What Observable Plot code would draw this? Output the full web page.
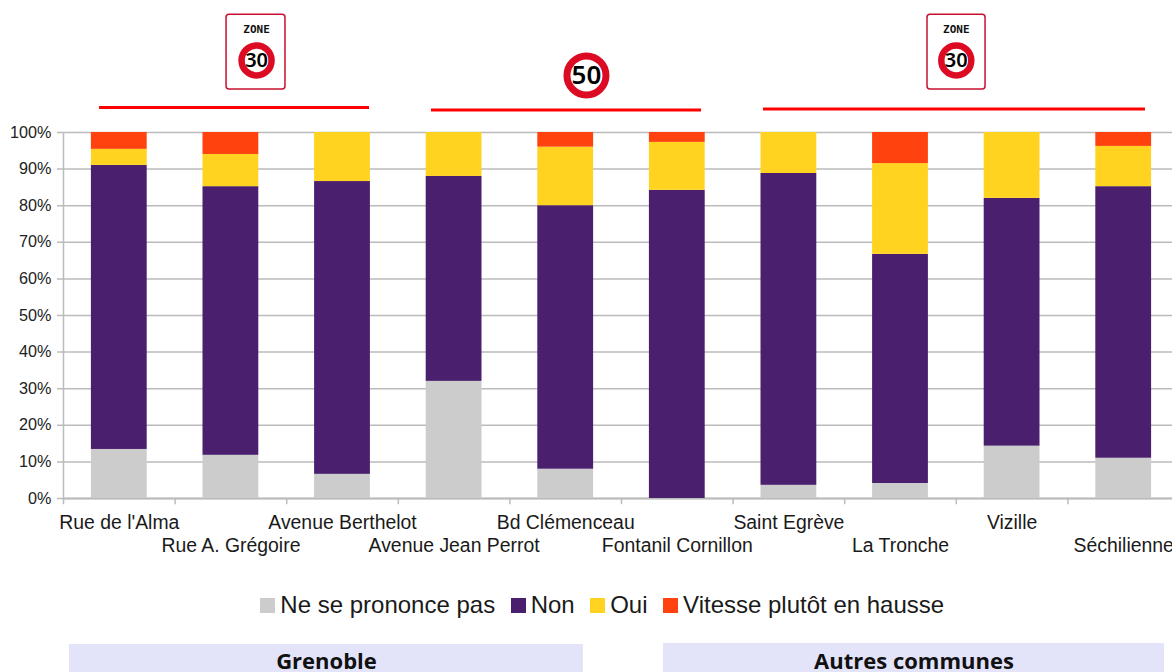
<!DOCTYPE html>
<html lang="fr">
<head>
<meta charset="utf-8">
<script src="https://cdn.jsdelivr.net/npm/d3@7"></script>
<script src="https://cdn.jsdelivr.net/npm/@observablehq/plot@0.6"></script>
<style>
html,body{margin:0;padding:0;background:#fff;overflow:hidden;width:1172px;height:672px}
#wrap{position:relative;width:1172px;height:672px;overflow:hidden}
#legend{position:absolute;left:49px;top:591px;width:1122px;text-align:center}
#legend>div{justify-content:center;margin:0 !important;min-height:0 !important}
[class$="-swatch"]{margin-right:15.5px !important;color:#1a1a1a}
#legend svg{margin-right:5px !important}
</style>
</head>
<body>
<div id="wrap"></div>
<script>
const categories = ["Rue de l'Alma","Rue A. Grégoire","Avenue Berthelot","Avenue Jean Perrot","Bd Clémenceau","Fontanil Cornillon","Saint Egrève","La Tronche","Vizille","Séchilienne"];
const seriesNames = ["Ne se prononce pas","Non","Oui","Vitesse plutôt en hausse"];
const seriesColors = ["#cccccc","#4a206e","#ffd320","#ff420e"];
const nspp    = [13.4,11.8, 6.6,32.0, 8.0, 0.0, 3.6, 4.1,14.3,11.0];
const non     = [77.6,73.4,80.0,56.0,72.0,84.2,85.2,62.6,67.7,74.2];
const oui     = [ 4.4, 8.8,13.4,12.0,16.0,13.1,11.2,24.8,18.0,11.0];
const hausse  = [ 4.6, 6.0, 0.0, 0.0, 4.0, 2.7, 0.0, 8.5, 0.0, 3.8];
const seriesValues = [nspp,non,oui,hausse];
const yTicks = [0,10,20,30,40,50,60,70,80,90,100];
const labelRow = [0,1,0,1,0,1,0,1,0,1];

// annotations, in units of the chart's own scales
const redLines = [
  {x1:0.323,x2:2.742,y:106.8},
  {x1:3.297,x2:5.717,y:106.15},
  {x1:6.272,x2:9.695,y:106.4}
];
const zoneSigns = [{x1:1.461,x2:1.989,cx:1.73},{x1:7.742,x2:8.262,cx:8.0}];
const roundSigns = [
  {cx:1.73,y:119.7,label:"30",r:15,sw:6.5,fs:20},
  {cx:8.0,y:119.7,label:"30",r:15,sw:6.5,fs:20},
  {cx:4.686,y:115.6,label:"50",r:19.5,sw:7,fs:26}
];
const groupBoxes = [
  {x1:0.054,x2:4.659,y1:-39.9,y2:-47.6,label:"Grenoble"},
  {x1:5.376,x2:9.866,y1:-39.6,y2:-47.6,label:"Autres communes"}
];

const rows = [];
categories.forEach((c,i)=>{
  let base = 0;
  seriesNames.forEach((s,j)=>{
    const v = seriesValues[j][i];
    rows.push({category:c,series:s,x1:i+0.25,x2:i+0.75,y1:base,y2:base+v});
    base += v;
  });
});
const labels = categories.map((c,i)=>({c,x:i+0.5,y:labelRow[i]?-12.8:-6.55}));
const F = "Liberation Sans";
const plot = Plot.plot({
  width:1172,height:672,
  marginLeft:63,marginRight:0,marginTop:0,marginBottom:0,
  style:{fontFamily:F,background:"#fff"},
  x:{type:"linear",domain:[0,10],range:[63,1179],axis:null},
  y:{type:"linear",domain:[0,100],range:[498,132],axis:null},
  color:{domain:seriesNames,range:seriesColors},
  marks:[
    Plot.ruleY(yTicks,{x1:-0.054,x2:10,stroke:"#bbbbbb",strokeWidth:1.5}),
    Plot.ruleX([0],{y1:0,y2:100,stroke:"#bbbbbb",strokeWidth:1.5}),
    Plot.ruleX(d3.range(0,11),{y1:0,y2:-1.7,stroke:"#bbbbbb",strokeWidth:1.5}),
    Plot.ruleY([0],{x1:0,x2:10,stroke:"#bbbbbb",strokeWidth:2}),
    Plot.rect(rows,{x1:"x1",x2:"x2",y1:"y1",y2:"y2",fill:"series"}),
    Plot.text(yTicks,{x:-0.054,y:d=>d,text:d=>d+"%",textAnchor:"end",dx:-6,fontSize:16.2,fill:"#222"}),
    Plot.text(labels,{x:"x",y:"y",text:"c",fontSize:19.4,fill:"#1a1a1a"}),
    Plot.ruleY(redLines,{x1:"x1",x2:"x2",y:"y",stroke:"#ff0000",strokeWidth:3}),
    Plot.rect(zoneSigns,{x1:"x1",x2:"x2",y1:111.75,y2:132.2,fill:"#fff",stroke:"#c8102e",strokeWidth:1.5,rx:3}),
    Plot.text(zoneSigns,{x:"cx",y:128.1,text:()=>"ZONE",fontSize:11,fontWeight:"bold",letterSpacing:"2px",fontFamily:"DejaVu Sans Mono",fill:"#111"}),
    Plot.dot(roundSigns,{x:"cx",y:"y",r:"r",fill:"#fff",stroke:"#dc0a23",strokeWidth:"sw"}),
    Plot.text(roundSigns,{x:"cx",y:"y",text:"label",fontSize:"fs",fontWeight:600,fontFamily:"Noto Sans",fill:"#000"}),
    Plot.rect(groupBoxes,{x1:"x1",x2:"x2",y1:"y1",y2:"y2",fill:"#e3e3fa"}),
    Plot.text(groupBoxes,{x:d=>(d.x1+d.x2)/2,y:-44.7,text:"label",fontSize:22,fontWeight:"bold",fontFamily:"Open Sans",fill:"#111"})
  ],
  r:{type:"identity"}
});
const wrap = document.getElementById("wrap");
wrap.appendChild(plot);
const leg = document.createElement("div");
leg.id = "legend";
leg.appendChild(Plot.legend({
  color:{domain:seriesNames,range:seriesColors},
  swatchSize:15,
  style:{fontFamily:F,fontSize:"24px",color:"#1a1a1a",justifyContent:"center"}
}));
wrap.appendChild(leg);
</script>
</body>
</html>
